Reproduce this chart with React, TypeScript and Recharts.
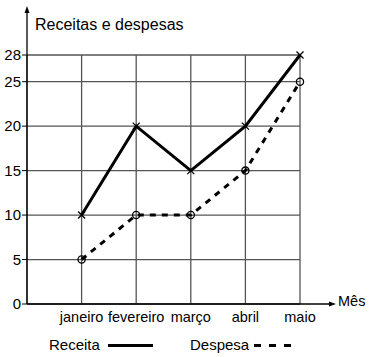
import { CartesianGrid, Line, LineChart, XAxis, YAxis } from "recharts";

const months = ["janeiro", "fevereiro", "março", "abril", "maio"];
const receita = [10, 20, 15, 20, 28];
const despesa = [5, 10, 10, 15, 25];
const yTicks = [0, 5, 10, 15, 20, 25, 28];

const data = months.map((m, i) => ({
  pos: i + 1,
  month: m,
  receita: receita[i],
  despesa: despesa[i],
}));

const font = "'Liberation Sans', Arial, sans-serif";

// small "x" marker for Receita
const CrossDot = (props: any) => {
  const { cx, cy } = props;
  if (cx == null || cy == null) return null;
  const s = 3.5;
  return (
    <g>
      <line x1={cx - s} y1={cy - s} x2={cx + s} y2={cy + s} stroke="#000" strokeWidth={1.3} />
      <line x1={cx - s} y1={cy + s} x2={cx + s} y2={cy - s} stroke="#000" strokeWidth={1.3} />
    </g>
  );
};

const RingDot = (props: any) => {
  const { cx, cy } = props;
  if (cx == null || cy == null) return null;
  return <circle cx={cx} cy={cy} r={3.6} fill="none" stroke="#000" strokeWidth={1.3} />;
};

export default function App() {
  return (
    <div style={{ position: "absolute", left: 0, top: 0, width: 372, height: 357, background: "#fff" }}>
      <LineChart
        width={372}
        height={357}
        data={data}
        margin={{ top: 55, right: 72, bottom: 0, left: 0 }}
        style={{ fontFamily: font }}
      >
        <CartesianGrid stroke="#555" strokeWidth={1.3} />
        <XAxis
          type="number"
          dataKey="pos"
          domain={[0, 5]}
          ticks={[1, 2, 3, 4, 5]}
          tickFormatter={(v: number) => months[v - 1]}
          height={53}
          axisLine={false}
          tickLine={false}
          tickSize={0}
          tickMargin={8}
          tick={{ fill: "#000", fontSize: 14.5, fontFamily: font }}
          interval={0}
        />
        <YAxis
          type="number"
          domain={[0, 28]}
          ticks={yTicks}
          width={27}
          axisLine={false}
          tickSize={5}
          tickMargin={1}
          tickLine={{ stroke: "#000", strokeWidth: 1 }}
          tick={{ fill: "#000", fontSize: 15, fontFamily: font }}
          interval={0}
        />
        <Line
          type="linear"
          dataKey="receita"
          stroke="#000"
          strokeWidth={3}
          dot={<CrossDot />}
          activeDot={false}
          isAnimationActive={false}
        />
        <Line
          type="linear"
          dataKey="despesa"
          stroke="#000"
          strokeWidth={3}
          strokeDasharray="6 6"
          dot={<RingDot />}
          activeDot={false}
          isAnimationActive={false}
        />
      </LineChart>
      <svg
        width={372}
        height={357}
        style={{ position: "absolute", left: 0, top: 0, pointerEvents: "none", fontFamily: font }}
      >
        {/* axes with arrows */}
        <line x1={27} y1={304} x2={27} y2={12} stroke="#000" strokeWidth={1.3} />
        <polygon points="27,6 24.5,13 29.5,13" fill="#000" />
        <line x1={27} y1={304} x2={330} y2={304} stroke="#000" strokeWidth={1.3} />
        <polygon points="336,304 329,301.5 329,306.5" fill="#000" />
        <text x={338} y={306} fontSize={14.5} fill="#000">Mês</text>
        <text x={35} y={30} fontSize={16} fill="#000">Receitas e despesas</text>
        {/* legend */}
        <text x={49} y={350} fontSize={15} fill="#000">Receita</text>
        <line x1={108} y1={345.5} x2={153} y2={345.5} stroke="#000" strokeWidth={3} />
        <text x={190} y={350} fontSize={15} fill="#000">Despesa</text>
        <line x1={254} y1={345.5} x2={295} y2={345.5} stroke="#000" strokeWidth={3} strokeDasharray="7 8" />
      </svg>
    </div>
  );
}
